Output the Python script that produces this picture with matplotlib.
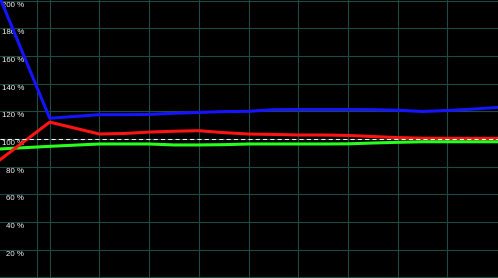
import matplotlib
matplotlib.use("Agg")
import matplotlib.pyplot as plt

# sample positions (one unit = one vertical grid step)
x_pos = [0, 1, 2, 2.5, 3, 3.5, 4, 4.5, 5, 5.5, 6, 6.5, 7, 7.5, 8, 8.5, 9, 9.5, 10]

blue = [202, 115.0, 117.6, 117.6, 117.8, 118.6, 119.2, 119.8, 120.0, 121.2,
        121.3, 121.3, 121.3, 121.2, 120.8, 119.9, 120.6, 121.6, 122.8]
red = [85, 112.2, 103.6, 104.0, 105.0, 105.6, 106.0, 104.6, 103.6, 103.3,
       102.9, 102.9, 102.6, 101.8, 101.0, 100.6, 100.5, 100.5, 100.5]
green = [92.8, 94.7, 96.4, 96.4, 96.4, 95.7, 95.7, 95.9, 96.4, 96.4,
         96.4, 96.4, 96.5, 97.1, 97.6, 98.0, 98.0, 98.0, 98.0]

y_ticks = [0, 20, 40, 60, 80, 100, 120, 140, 160, 180, 200]
y_labels = [f"{v} %" for v in y_ticks]
x_grid = [0.745, 1, 2, 3, 4, 5, 6, 7, 8, 9]

fig = plt.figure(figsize=(4.98, 2.78), dpi=100, facecolor="black")
ax = fig.add_axes([0, 0, 1, 1], facecolor="black")

ax.set_xlim(0, 10.02)
ax.set_ylim(-0.5, 200.5)
ax.set_xticks(x_grid)
ax.set_yticks(y_ticks)
ax.grid(True, color="#1f4a44", linewidth=0.8)
ax.tick_params(length=0, labelbottom=False, labelleft=False)
for s in ax.spines.values():
    s.set_visible(False)

# labels sit just under their grid line, right aligned, no label for 0
for v, lab in zip(y_ticks[1:], y_labels[1:]):
    ax.text(0.048, v - 0.8, lab, transform=ax.get_yaxis_transform(),
            ha="right", va="top", color="#f4f4f4", fontsize=5.7,
            family="Liberation Sans")

ax.plot(x_pos, green, color="#28ff1e", linewidth=2.2, zorder=3)
ax.plot(x_pos, red, color="#ff1414", linewidth=2.2, zorder=4)
ax.plot(x_pos, blue, color="#1414ff", linewidth=2.2, zorder=5)
ax.axhline(100, color="white", linewidth=0.75, dashes=(4, 3), zorder=6)

fig.savefig("out.png", dpi=100, facecolor="black")
